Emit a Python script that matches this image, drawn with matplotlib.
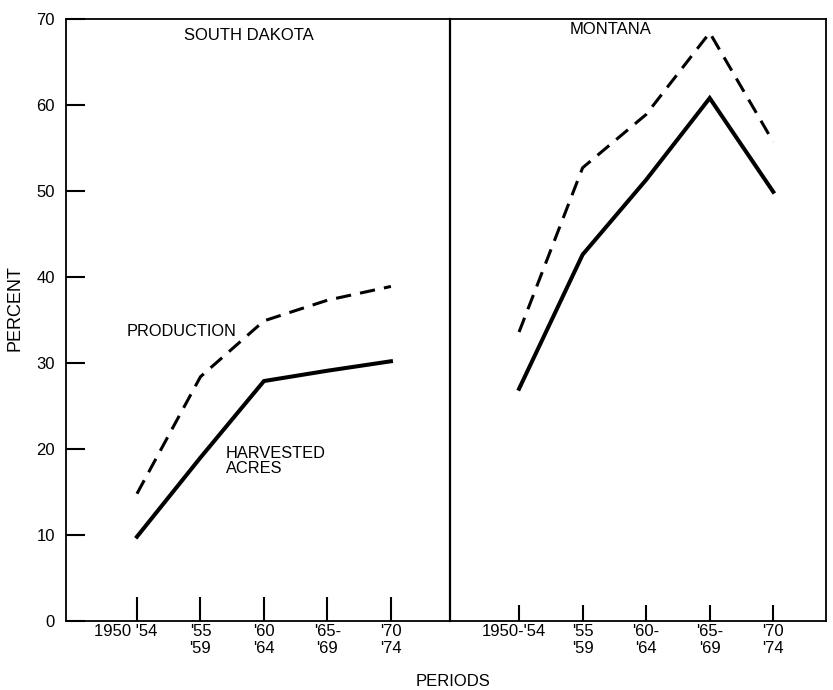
import matplotlib
matplotlib.use("Agg")
import matplotlib.pyplot as plt

plt.rcParams['font.family'] = ['Liberation Sans', 'DejaVu Sans']

periods = [0, 1, 2, 3, 4]
sd_labels = ["", "'55\n'59", "'60\n'64", "'65-\n'69", "'70\n'74"]
mt_labels = ["", "'55\n'59", "'60-\n'64", "'65-\n'69", "'70\n'74"]
sd_first = "1950 '54"
mt_first = "1950-'54"

sd_production = [14.8, 28.4, 34.9, 37.3, 38.9]
sd_harvested = [9.8, 19.0, 27.9, 29.1, 30.2]
mt_production = [33.6, 52.7, 58.9, 68.4, 55.7]
mt_harvested = [27.0, 42.6, 51.3, 60.8, 49.9]

y_ticks = [0, 10, 20, 30, 40, 50, 60, 70]

fig = plt.figure(figsize=(8.33, 6.9), dpi=100)
ax1 = fig.add_axes([0.0792, 0.1, 0.461, 0.8725])
ax2 = fig.add_axes([0.5402, 0.1, 0.4514, 0.8725])
ax2.patch.set_visible(False)

for ax in (ax1, ax2):
    ax.set_ylim(0, 70)
    for s in ax.spines.values():
        s.set_linewidth(1.3)
    ax.set_xticks(periods)
    ax.tick_params(axis='x', direction='in', width=1.5, pad=2, labelsize=12)

ax1.set_xlim(-1.118, 4.93)
ax2.set_xlim(-1.087, 4.83)
ax1.set_xticklabels(sd_labels)
ax2.set_xticklabels(mt_labels)
ax1.tick_params(axis='x', length=17)
ax2.tick_params(axis='x', length=11.5)
ax1.spines['right'].set_linewidth(1.6)

ax1.set_yticks(y_ticks)
ax1.tick_params(axis='y', direction='in', length=14, width=1.5, pad=8, labelsize=12)
ax2.set_yticks([])
ax2.spines['left'].set_visible(False)

# first tick labels sit a bit left of their ticks
ax1.annotate(sd_first, xy=(0, 0), xycoords=('data', 'axes fraction'),
             xytext=(-8, -2), textcoords='offset points', ha='center', va='top', fontsize=12)
ax2.annotate(mt_first, xy=(0, 0), xycoords=('data', 'axes fraction'),
             xytext=(-4, -2), textcoords='offset points', ha='center', va='top', fontsize=12)

ax1.plot(periods, sd_production, color='black', lw=2.2, dashes=(5, 3))
ax1.plot(periods, sd_harvested, color='black', lw=2.9, solid_joinstyle='miter')
ax2.plot(periods, mt_production, color='black', lw=2.2, dashes=(5, 3))
ax2.plot(periods, mt_harvested, color='black', lw=2.9, solid_joinstyle='miter')

ax1.text(0.477, 0.972, "SOUTH DAKOTA", transform=ax1.transAxes, ha='center', va='center', fontsize=12)
ax2.text(0.426, 0.982, "MONTANA", transform=ax2.transAxes, ha='center', va='center', fontsize=12)

ax1.text(-0.16, 33.7, "PRODUCTION", ha='left', va='center', fontsize=11.8)
ax1.text(1.40, 20.4, "HARVESTED\nACRES", ha='left', va='top', fontsize=11.8, linespacing=1.05)

fig.text(15 / 833, 1 - 308 / 690, "PERCENT", rotation=90, ha='center', va='center', fontsize=13)
fig.text(453 / 833, 1 - 681 / 690, "PERIODS", ha='center', va='center', fontsize=12)

fig.savefig("out.png", dpi=100)
